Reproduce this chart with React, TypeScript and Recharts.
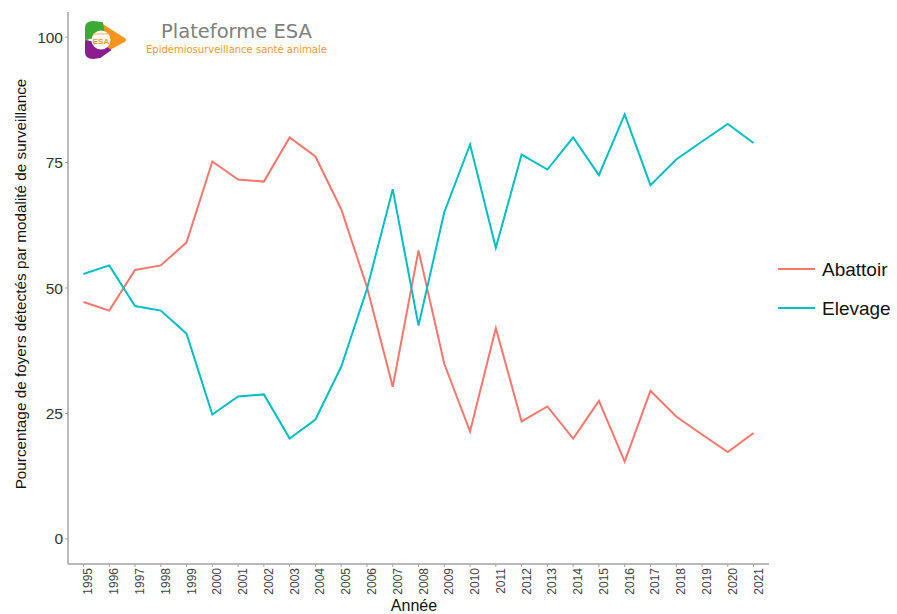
import { LineChart, Line, XAxis, YAxis } from 'recharts';

const years = [
  1995, 1996, 1997, 1998, 1999, 2000, 2001, 2002, 2003, 2004, 2005, 2006, 2007, 2008,
  2009, 2010, 2011, 2012, 2013, 2014, 2015, 2016, 2017, 2018, 2019, 2020, 2021,
];
const abattoir = [
  47.2, 45.5, 53.6, 54.5, 59.1, 75.2, 71.6, 71.2, 80.0, 76.2, 65.7, 50.2, 30.3, 57.5,
  34.9, 21.4, 42.0, 23.4, 26.4, 20.0, 27.5, 15.4, 29.5, 24.4, 20.8, 17.3, 21.1,
];
const elevage = [
  52.8, 54.5, 46.4, 45.5, 40.9, 24.8, 28.4, 28.8, 20.0, 23.8, 34.3, 49.8, 69.7, 42.5,
  65.1, 78.6, 58.0, 76.6, 73.6, 80.0, 72.5, 84.6, 70.5, 75.6, 79.2, 82.7, 78.9,
];
const yTicks = [0, 25, 50, 75, 100];

const RED = '#F8766D';
const TEAL = '#00BFC4';
const AXIS = '#a3a3a3';
const FONT = '"Liberation Sans", Arial, sans-serif';

const data = years.map((year, i) => ({ year, Abattoir: abattoir[i], Elevage: elevage[i] }));

function YearTick({ x, y, payload }: any) {
  const tx = x + 9;
  const ty = y - 1;
  return (
    <text
      x={tx}
      y={ty}
      transform={`rotate(-90, ${tx}, ${ty})`}
      textAnchor="end"
      fontSize={12}
      fontFamily={FONT}
      fill="#444"
    >
      {payload.value}
    </text>
  );
}

function Logo() {
  return (
    <g>
      {/* orange right part */}
      <path d="M102 26 L124 40 L102 52 Z" fill="#f7941d" stroke="#f7941d" strokeWidth={4} strokeLinejoin="round" />
      {/* green top-left */}
      <path d="M86 39 L86 28 Q86 22 93 22 L102 23 L104 34 Z" fill="#3aaa35" stroke="#3aaa35" strokeWidth={2} strokeLinejoin="round" />
      {/* purple bottom-left */}
      <path d="M86 41 L86 52 Q86 58 93 58 L100 57 L110 50 L102 45 Z" fill="#8b1d8c" stroke="#8b1d8c" strokeWidth={2} strokeLinejoin="round" />
      <circle cx={101} cy={40} r={9.5} fill="#fff" />
      <text x={101} y={35} textAnchor="middle" fontSize={3.5} fontFamily={FONT} fill="#f7941d">plateforme</text>
      <text x={101} y={43.5} textAnchor="middle" fontSize={8} fontWeight="bold" fontFamily={FONT} fill="#f7941d">ESA</text>
    </g>
  );
}

export default function App() {
  return (
    <div style={{ position: 'absolute', left: 0, top: 0, width: 897, height: 614, background: '#fff' }}>
      <LineChart width={897} height={614} data={data} margin={{ top: 12, right: 128, bottom: 0, left: 18 }}>
        <XAxis
          dataKey="year"
          type="number"
          domain={[1994.4, 2021.6]}
          ticks={years}
          interval={0}
          height={50}
          tick={<YearTick />}
          tickSize={3}
          tickLine={{ stroke: AXIS }}
          axisLine={{ stroke: AXIS, strokeWidth: 1.5 }}
        />
        <YAxis
          type="number"
          domain={[-5, 105]}
          ticks={yTicks}
          width={50}
          tickSize={3}
          tickLine={{ stroke: AXIS }}
          axisLine={{ stroke: AXIS, strokeWidth: 1.5 }}
          tick={{ fill: '#333', fontSize: 15.5, fontFamily: FONT }}
        />
        <Line dataKey="Abattoir" stroke={RED} strokeWidth={2} dot={false} isAnimationActive={false} />
        <Line dataKey="Elevage" stroke={TEAL} strokeWidth={2} dot={false} isAnimationActive={false} />
      </LineChart>

      <svg width={897} height={614} style={{ position: 'absolute', left: 0, top: 0, pointerEvents: 'none' }}>
        <Logo />
        <text x={161} y={38} fontSize={19.5} fontFamily='"DejaVu Sans", sans-serif' fill="#808080">
          Plateforme ESA
        </text>
        <text x={146} y={53} fontSize={10} fontFamily='"DejaVu Sans", sans-serif' fill="#f39a2b">
          Epidémiosurveillance santé animale
        </text>

        <text
          x={26}
          y={284}
          transform="rotate(-90, 26, 284)"
          textAnchor="middle"
          fontSize={15.3}
          fontFamily={FONT}
          fill="#111"
        >
          Pourcentage de foyers détectés par modalité de surveillance
        </text>
        <text x={414} y={611} textAnchor="middle" fontSize={16} fontFamily={FONT} fill="#111">
          Année
        </text>

        <line x1={778} x2={815} y1={269} y2={269} stroke={RED} strokeWidth={2} />
        <text x={822} y={276} fontSize={19} fontFamily={FONT} fill="#111">Abattoir</text>
        <line x1={778} x2={815} y1={308} y2={308} stroke={TEAL} strokeWidth={2} />
        <text x={822} y={315} fontSize={19} fontFamily={FONT} fill="#111">Elevage</text>
      </svg>
    </div>
  );
}
